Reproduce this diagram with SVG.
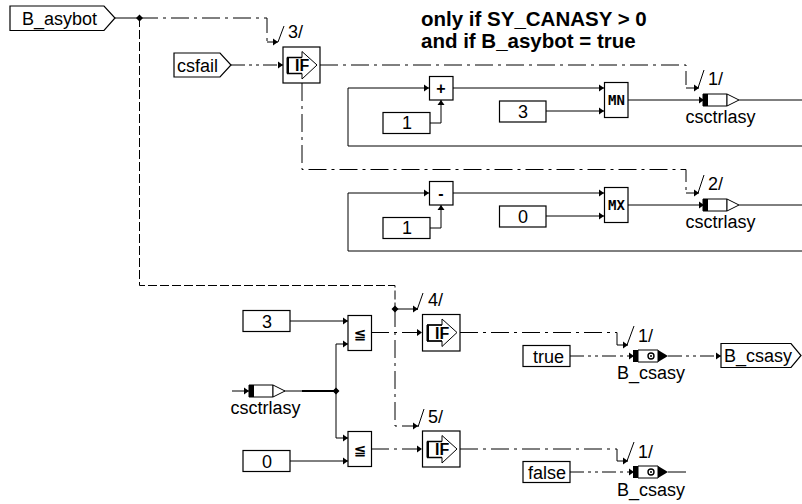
<svg xmlns="http://www.w3.org/2000/svg" width="802" height="504" viewBox="0 0 802 504">
<style>
text{font-family:"Liberation Sans",Arial,sans-serif;font-size:18px;fill:#000}
.m{text-anchor:middle}
.b{font-weight:bold;font-size:20.500px}
.box{fill:#fff;stroke:#000;stroke-width:1.2}
.w{fill:none;stroke:#000;stroke-width:1}
.a{marker-end:url(#ah)}
.dd{stroke-dasharray:18 5 3 5}
.ddd{stroke-dasharray:14 4 3 4 3 4}
.long{stroke-dasharray:9 3}
.g{font-family:"DejaVu Sans Mono","Liberation Mono",monospace;font-weight:bold;font-size:14px}
.gl{font-size:16px;font-weight:bold}
.le{font-family:"DejaVu Sans",sans-serif;font-size:15px;font-weight:bold}
</style>
<defs>
<marker id="ah" markerUnits="userSpaceOnUse" markerWidth="6" markerHeight="8" refX="5" refY="4" orient="auto"><path d="M0 .5L5 4L0 7.500z" fill="#000"/></marker>
<g id="ifg"><path d="M5 10.500H20V4.500L35 18L20 32V26.500H5z" fill="#fff" stroke="#000" stroke-width="1"/><path d="M5 10.500H7V26.500H5z" fill="#000"/><path d="M5 10.500H20M5 26.500H20" stroke="#000" stroke-width="1.600"/></g>
<g id="wr"><path d="M0 -6H24V6H0z" fill="#fff" stroke="#000"/><path d="M0 -6H5V6H0z" fill="#000"/><path d="M24 -6L36 0L24 6z" fill="#fff" stroke="#000"/></g>
<g id="bo"><path d="M0 -6H5V6H0z" fill="#000"/><path d="M5 -6H25V6H5z" fill="#fff" stroke="#000"/><path d="M25 -6L35 0L25 6z" fill="#000"/><circle cx="18" cy="0" r="3" fill="#fff" stroke="#000" stroke-width="1.400"/><circle cx="18" cy="0" r="1" fill="#000"/></g>
</defs>
<g id="connectors">
<path class="w" d="M115 18H140"/>
<path class="w dd" d="M140 18H267V42"/>
<path class="w a" d="M267 42H278"/>
<path class="w long" d="M139.500 18V285.500H395V309"/>
<path class="w dd" d="M395 309V426H409"/>
<path class="w a" d="M409 426H418"/>
<path class="w a" d="M395 309H418"/>
<path class="w" d="M278 42L284 26M417 310L423 293M418 427L424 409M698 88L704 70M698 193L704 175M627 345L634 326M627 461L634 442"/>
<path class="w ddd a" d="M231 65H283"/>
<path class="w dd" d="M320 65H686V85"/>
<path class="w a" d="M686 88H699"/>
<path class="w dd" d="M302 83V169.500H686V190"/>
<path class="w a" d="M686 193H699"/>
<path class="w a" d="M802 146H348V88H429"/>
<path class="w a" d="M430 123H441V100"/>
<path class="w a" d="M453 88H604"/>
<path class="w a" d="M546 111H604"/>
<path class="w a" d="M628 100H704"/>
<path class="w" d="M739 100H802"/>
<path class="w a" d="M802 251H348V193H429"/>
<path class="w a" d="M430 228H441V205"/>
<path class="w a" d="M453 193H604"/>
<path class="w a" d="M546 216H604"/>
<path class="w a" d="M628 205H704"/>
<path class="w" d="M739 205H802"/>
<path class="w a" d="M290 321H348"/>
<path class="w a" d="M290 461H348"/>
<path class="w a" d="M336 391V344H348"/>
<path class="w a" d="M336 391V438H348"/>
<path class="w a" d="M232 391H249"/>
<path class="w" d="M284 391H302"/>
<path d="M302 391H336" fill="none" stroke="#000" stroke-width="2"/>
<path class="w dd a" d="M371 332.500H422"/>
<path class="w dd a" d="M371 449H422"/>
<path class="w dd" d="M460 332.500H617V345"/>
<path class="w a" d="M617 345H628"/>
<path class="w dd" d="M460 449H617V461"/>
<path class="w a" d="M617 461H628"/>
<path class="w ddd a" d="M570 356H634"/>
<path class="w ddd a" d="M570 472H634"/>
<path class="w ddd a" d="M668 356H721"/>
<path class="w" d="M668 472H686"/>
<path d="M139.500 14.500L143 18L139.500 21.500L136 18z M395 305.500L398.500 309L395 312.500L391.500 309z M336 387.500L339.500 391L336 394.500L332.500 391z" fill="#000"/>
</g>
<g id="note"><text class="b" x="421" y="26">only if SY_CANASY &gt; 0</text><text class="b" x="421" y="48">and if B_asybot = true</text></g>
<g id="n-basybot"><path class="box" d="M10 6H104L115 18L104 30.500H10z"/><text x="22" y="24.500">B_asybot</text></g>
<g id="n-csfail"><path class="box" d="M174 53H220L231 65L220 77H174z"/><text x="177" y="72">csfail</text></g>
<g id="n-if3"><rect class="box" x="283" y="47" width="37" height="36"/><use href="#ifg" x="282" y="47"/><text class="gl" x="295" y="71">IF</text><text x="288" y="38">3/</text></g>
<g id="n-plus"><rect class="box" x="429.500" y="76.500" width="23.500" height="23.500"/><text class="gl m" x="441" y="94">+</text></g>
<g id="n-one1"><rect class="box" x="383" y="112.500" width="47" height="21"/><text class="m" x="407" y="129">1</text></g>
<g id="n-three1"><rect class="box" x="499.500" y="101" width="46.500" height="21"/><text class="m" x="523" y="118">3</text></g>
<g id="n-mn"><rect class="box" x="604.500" y="82.500" width="23.500" height="35"/><text class="g m" x="616.500" y="105">MN</text></g>
<g id="n-out1"><use href="#wr" x="703" y="100"/><text x="708" y="85">1/</text><text class="m" x="720.500" y="123">csctrlasy</text></g>
<g id="n-minus"><rect class="box" x="429.500" y="181.500" width="23.500" height="23.500"/><text class="gl m" x="441" y="199">-</text></g>
<g id="n-one2"><rect class="box" x="383" y="217.500" width="47" height="21"/><text class="m" x="407" y="234">1</text></g>
<g id="n-zero1"><rect class="box" x="499.500" y="206" width="46.500" height="21"/><text class="m" x="523" y="223">0</text></g>
<g id="n-mx"><rect class="box" x="604.500" y="187.500" width="23.500" height="35"/><text class="g m" x="616.500" y="210">MX</text></g>
<g id="n-out2"><use href="#wr" x="703" y="205"/><text x="708" y="190">2/</text><text class="m" x="720.500" y="228">csctrlasy</text></g>
<g id="n-three2"><rect class="box" x="243" y="310.500" width="47" height="21"/><text class="m" x="267" y="328">3</text></g>
<g id="n-zero2"><rect class="box" x="243" y="450.500" width="47" height="21"/><text class="m" x="267" y="468">0</text></g>
<g id="n-le1"><rect class="box" x="348" y="315.500" width="23.500" height="35"/><text class="le m" x="360" y="339">≦</text></g>
<g id="n-le2"><rect class="box" x="348" y="431.500" width="23.500" height="35"/><text class="le m" x="360" y="455">≦</text></g>
<g id="n-in"><use href="#wr" x="249" y="391"/><text class="m" x="265.500" y="414">csctrlasy</text></g>
<g id="n-if4"><rect class="box" x="422.500" y="314.500" width="37.500" height="36.500"/><use href="#ifg" x="422" y="314.500"/><text class="gl" x="435" y="338.500">IF</text><text x="428" y="306">4/</text></g>
<g id="n-if5"><rect class="box" x="422.500" y="431" width="37.500" height="36"/><use href="#ifg" x="422" y="431"/><text class="gl" x="435" y="455">IF</text><text x="428" y="423">5/</text></g>
<g id="n-true"><rect class="box" x="523" y="345.500" width="47" height="21"/><text x="533" y="363">true</text></g>
<g id="n-false"><rect class="box" x="523" y="461.500" width="47" height="21"/><text x="528" y="479">false</text></g>
<g id="n-bo1"><use href="#bo" x="633" y="356"/><text x="638" y="342">1/</text><text class="m" x="651" y="379">B_csasy</text></g>
<g id="n-bo2"><use href="#bo" x="633" y="472"/><text x="638" y="458">1/</text><text class="m" x="651" y="495.500">B_csasy</text></g>
<g id="n-bcsasy"><path class="box" d="M721 343.500H791L801 355.500L791 367.500H721z"/><text x="724" y="362">B_csasy</text></g>
</svg>
